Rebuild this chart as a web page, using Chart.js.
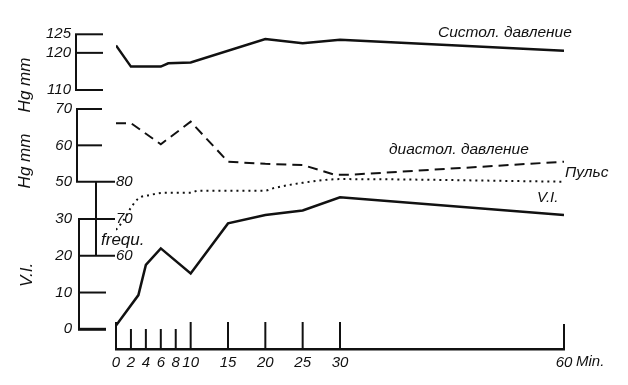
<!DOCTYPE html>
<html>
<head>
<meta charset="utf-8">
<script src="https://cdn.jsdelivr.net/npm/chart.js@4.4.1/dist/chart.umd.min.js"></script>
<style>
  html, body { margin: 0; padding: 0; background: #fff; }
  #chart { display: block; }
</style>
</head>
<body>
<canvas id="chart" width="628" height="385"></canvas>
<script>
// time axis (minutes) and the labelled values on each left-hand scale
const minuteTicks = [0, 2, 4, 6, 8, 10, 15, 20, 25, 30, 60];
const systolTicks = [125, 120, 110];
const diastolTicks = [70, 60, 50];
const viTicks = [30, 20, 10, 0];
const pulseTicks = [80, 70, 60];

// curves, x = minutes
const systolMin = [0, 2, 6, 7, 10, 20, 25, 30, 60];
const systolVal = [122, 116.3, 116.3, 117.2, 117.4, 123.7, 122.6, 123.5, 120.6];

const diastolMin = [0, 2, 6, 10, 15, 20, 25, 29.3, 31.3, 60];
const diastolVal = [66.1, 66.1, 60.3, 66.5, 55.5, 54.9, 54.6, 51.9, 51.9, 55.5];

const pulseMin = [0, 1, 2, 3, 4.5, 6.5, 10, 11, 20, 21, 25, 30, 60];
const pulseVal = [67, 69.6, 73, 75.5, 76.4, 77, 77, 77.6, 77.6, 78.2, 79.7, 80.7, 80];

const viMin = [0, 3, 4, 6, 10, 15, 20, 25, 30, 60];
const viVal = [1, 9.3, 17.5, 22, 15.2, 28.8, 31.1, 32.3, 35.9, 31.1];

const FONT = "'Liberation Sans', Arial, sans-serif";
const INK = '#111';

function pairs(xs, ys) {
  return xs.map((m, i) => ({ x: m, y: ys[i] }));
}

function stroke(ctx, x1, y1, x2, y2, w) {
  ctx.lineWidth = w;
  ctx.beginPath();
  ctx.moveTo(x1, y1);
  ctx.lineTo(x2, y2);
  ctx.stroke();
}

// the hand-drawn left scales, upward time ticks and curve names
const sketchAxes = {
  id: 'sketchAxes',
  afterDraw(chart) {
    const { ctx, scales } = chart;
    const xs = scales.x;
    const base = chart.chartArea.bottom;
    ctx.save();
    ctx.strokeStyle = INK;
    ctx.fillStyle = INK;

    minuteTicks.forEach(m => {
      const h = m === 60 ? 25 : (m > 0 && m < 10 ? 20 : 27);
      const px = xs.getPixelForValue(m);
      stroke(ctx, px, base, px, base - h, 2);
    });

    ctx.font = `italic 15px ${FONT}`;
    ctx.textBaseline = 'middle';
    ctx.textAlign = 'left';
    ctx.fillText('Min.', xs.getPixelForValue(60) + 12, 362);

    // systolic scale
    const ys = scales.ySys;
    stroke(ctx, 76, ys.getPixelForValue(125), 76, ys.getPixelForValue(110), 2);
    ctx.textAlign = 'right';
    systolTicks.forEach(v => {
      const py = ys.getPixelForValue(v);
      stroke(ctx, 75, py, 103, py, 2);
      ctx.fillText(String(v), 71, py);
    });

    // diastolic scale
    const yd = scales.yDia;
    stroke(ctx, 77, yd.getPixelForValue(70), 77, yd.getPixelForValue(50), 2);
    diastolTicks.forEach(v => {
      const py = yd.getPixelForValue(v);
      stroke(ctx, 76, py, v === 50 ? 115 : 102, py, 2);
      ctx.fillText(String(v), 72, py);
    });

    // V.I. scale
    const yv = scales.yVI;
    stroke(ctx, 79, yv.getPixelForValue(30), 79, yv.getPixelForValue(0), 2);
    viTicks.forEach(v => {
      const py = yv.getPixelForValue(v);
      const end = v >= 20 ? 115 : 106;
      stroke(ctx, 78, py, end, py, v === 0 ? 3 : 2);
      ctx.fillText(String(v), 72, py);
    });

    // pulse frequency scale
    const yp = scales.yPulse;
    stroke(ctx, 96, yp.getPixelForValue(80), 96, yp.getPixelForValue(60), 2);
    ctx.textAlign = 'left';
    pulseTicks.forEach(v => {
      ctx.fillText(String(v), 116, yp.getPixelForValue(v));
    });
    ctx.font = `italic 17px ${FONT}`;
    ctx.fillText('frequ.', 101, 240);

    // rotated scale titles
    [['Hg mm', 25, 85], ['Hg mm', 25, 161], ['V.I.', 27, 275]].forEach(([t, x, y]) => {
      ctx.save();
      ctx.translate(x, y);
      ctx.rotate(-Math.PI / 2);
      ctx.textAlign = 'center';
      ctx.fillText(t, 0, 0);
      ctx.restore();
    });

    // curve names
    ctx.font = `italic 15.5px ${FONT}`;
    ctx.textAlign = 'left';
    ctx.fillText('Систол. давление', 438, 33);
    ctx.fillText('диастол. давление', 389, 150);
    ctx.fillText('Пульс', 565, 173);
    ctx.font = `italic 15px ${FONT}`;
    ctx.fillText('V.I.', 537, 198);
    ctx.restore();
  }
};

const ctx = document.getElementById('chart').getContext('2d');
new Chart(ctx, {
  type: 'line',
  data: {
    datasets: [
      {
        label: 'Систол. давление',
        data: pairs(systolMin, systolVal),
        yAxisID: 'ySys',
        borderColor: INK,
        borderWidth: 2.5,
        pointRadius: 0,
        tension: 0
      },
      {
        label: 'диастол. давление',
        data: pairs(diastolMin, diastolVal),
        yAxisID: 'yDia',
        borderColor: INK,
        borderWidth: 2,
        borderDash: [10, 6],
        pointRadius: 0,
        tension: 0
      },
      {
        label: 'Пульс',
        data: pairs(pulseMin, pulseVal),
        yAxisID: 'yPulse',
        borderColor: INK,
        borderWidth: 2,
        borderDash: [2, 4],
        pointRadius: 0,
        cubicInterpolationMode: 'monotone'
      },
      {
        label: 'V.I.',
        data: pairs(viMin, viVal),
        yAxisID: 'yVI',
        borderColor: INK,
        borderWidth: 2.5,
        pointRadius: 0,
        tension: 0
      }
    ]
  },
  options: {
    responsive: false,
    animation: false,
    layout: { padding: { left: 116, right: 64, top: 20, bottom: 0 } },
    plugins: { legend: { display: false }, tooltip: { enabled: false } },
    scales: {
      x: {
        type: 'linear',
        min: 0,
        max: 60,
        afterBuildTicks: scale => { scale.ticks = minuteTicks.map(v => ({ value: v })); },
        afterFit: scale => { scale.height = 36; },
        grid: { drawOnChartArea: false, drawTicks: false },
        border: { display: true, color: INK, width: 2.5 },
        ticks: {
          color: INK,
          padding: 5,
          maxRotation: 0,
          autoSkip: false,
          font: { family: FONT, size: 15, style: 'italic' }
        }
      },
      ySys: { type: 'linear', display: false, min: 40.24, max: 128.85 },
      yDia: { type: 'linear', display: false, min: 3.97, max: 94.48 },
      yVI: { type: 'linear', display: false, min: -5.36, max: 84.12 },
      yPulse: { type: 'linear', display: false, min: 34.97, max: 123.53 }
    }
  },
  plugins: [sketchAxes]
});
</script>
</body>
</html>
